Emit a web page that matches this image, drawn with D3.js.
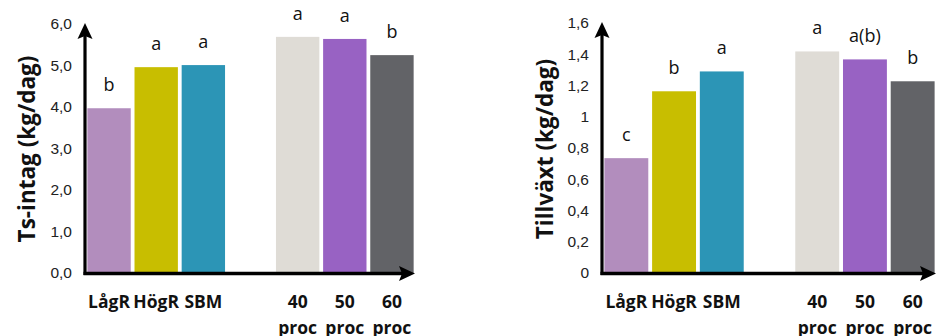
<!DOCTYPE html>
<html>
<head>
<meta charset="utf-8">
<script src="https://cdn.jsdelivr.net/npm/d3@7"></script>
<style>
  body { margin: 0; background: #fff; }
  svg { display: block; }
</style>
</head>
<body>
<svg id="chart" width="937" height="336"></svg>
<script>
// categories and values
var categories = ["LågR", "HögR", "SBM", "40 proc", "50 proc", "60 proc"];
var barColors = ["#b28dbd", "#c8be00", "#2c95b6", "#dfdcd6", "#9862c3", "#626367"];

var tsIntag = [3.97, 4.96, 5.01, 5.69, 5.64, 5.25];
var tsLetters = ["b", "a", "a", "a", "a", "b"];
var tsTicks = [0, 1, 2, 3, 4, 5, 6];

var tillvaxt = [0.735, 1.163, 1.29, 1.418, 1.367, 1.227];
var tillLetters = ["c", "b", "a", "a", "a(b)", "b"];
var tillTicks = [0, 0.2, 0.4, 0.6, 0.8, 1, 1.2, 1.4, 1.6];

var svg = d3.select("#chart");
var se = d3.formatLocale({ decimal: ",", thousands: " ", grouping: [3], currency: ["", ""] });

// empty slot between SBM and the proc-bars
var slots = ["LågR", "HögR", "SBM", "_gap", "40 proc", "50 proc", "60 proc"];

function drawChart(cfg) {
  var g = svg.append("g");
  var x = d3.scaleBand().domain(slots)
    .range([cfg.x0, cfg.x1]).paddingInner(0.08).paddingOuter(0.05);
  var y = d3.scaleLinear().domain([0, cfg.max]).range([273, cfg.top]);

  var rows = categories.map(function (c, i) {
    return { cat: c, v: cfg.values[i], letter: cfg.letters[i], color: barColors[i] };
  });

  g.selectAll("rect.bar").data(rows).enter().append("rect")
    .attr("class", "bar")
    .attr("x", function (d) { return x(d.cat); })
    .attr("y", function (d) { return y(d.v); })
    .attr("width", x.bandwidth())
    .attr("height", function (d) { return y(0) - y(d.v); })
    .attr("fill", function (d) { return d.color; });

  // significance letters
  g.selectAll("text.letter").data(rows).enter().append("text")
    .attr("class", "letter")
    .attr("x", function (d) { return x(d.cat) + x.bandwidth() / 2; })
    .attr("y", function (d) { return y(d.v) - 17; })
    .attr("text-anchor", "middle")
    .style("font-family", "'Open Sans', sans-serif")
    .style("font-size", "18px")
    .attr("fill", "#111")
    .text(function (d) { return d.letter; });

  // y tick labels
  var yAxis = d3.axisLeft(y).tickValues(cfg.ticks).tickSize(0).tickPadding(0)
    .tickFormat(se.format(cfg.fmt));
  var ya = g.append("g").attr("transform", "translate(" + cfg.labelX + ",0)").call(yAxis);
  ya.select(".domain").remove();
  ya.selectAll("text")
    .style("font-family", "'Liberation Sans', Arial, sans-serif")
    .style("font-size", "15.5px")
    .attr("fill", "#222");

  // category labels
  var lab = g.selectAll("text.cat").data(rows).enter().append("text")
    .attr("class", "cat")
    .attr("x", function (d) { return x(d.cat) + x.bandwidth() / 2; })
    .attr("y", 308)
    .attr("text-anchor", "middle")
    .style("font-family", "'Open Sans', sans-serif")
    .style("font-weight", "bold")
    .style("font-size", "17.5px")
    .attr("fill", "#111");
  lab.each(function (d) {
    var parts = d.cat.split(" ");
    var t = d3.select(this);
    parts.forEach(function (p, k) {
      t.append("tspan").attr("x", t.attr("x")).attr("dy", k === 0 ? 0 : 26).text(p);
    });
  });

  // axes with arrows
  var ax = cfg.x0, ay = 273.5;
  g.append("line").attr("x1", ax).attr("y1", ay + 1.5).attr("x2", ax).attr("y2", cfg.top + 12)
    .attr("stroke", "#000").attr("stroke-width", 3.2);
  g.append("path")
    .attr("d", "M" + ax + "," + (cfg.top - 1) + " L" + (ax + 7.5) + "," + (cfg.top + 15) +
      " L" + ax + "," + (cfg.top + 12) + " L" + (ax - 7.5) + "," + (cfg.top + 15) + "Z")
    .attr("fill", "#000");
  var tip = cfg.x1 - 1;
  g.append("line").attr("x1", ax - 1.5).attr("y1", ay).attr("x2", tip - 12).attr("y2", ay)
    .attr("stroke", "#000").attr("stroke-width", 3.5);
  g.append("path")
    .attr("d", "M" + tip + "," + ay + " L" + (tip - 16) + "," + (ay - 7.5) +
      " L" + (tip - 13) + "," + ay + " L" + (tip - 16) + "," + (ay + 7.5) + "Z")
    .attr("fill", "#000");

  // y title
  g.append("text")
    .attr("transform", "translate(" + cfg.titleX + ",149) rotate(-90)")
    .attr("text-anchor", "middle")
    .attr("dy", "0.35em")
    .style("font-family", "'Open Sans', sans-serif")
    .style("font-weight", "bold")
    .style("font-size", "22.5px")
    .attr("fill", "#111")
    .text(cfg.title);
}

drawChart({ x0: 85, x1: 416, top: 24, max: 6, values: tsIntag, letters: tsLetters,
  ticks: tsTicks, fmt: ".1f", labelX: 72, titleX: 27, title: "Ts-intag (kg/dag)" });
drawChart({ x0: 602, x1: 937, top: 23, max: 1.6, values: tillvaxt, letters: tillLetters,
  ticks: tillTicks, fmt: "~f", labelX: 589, titleX: 545, title: "Tillväxt (kg/dag)" });
</script>
</body>
</html>
